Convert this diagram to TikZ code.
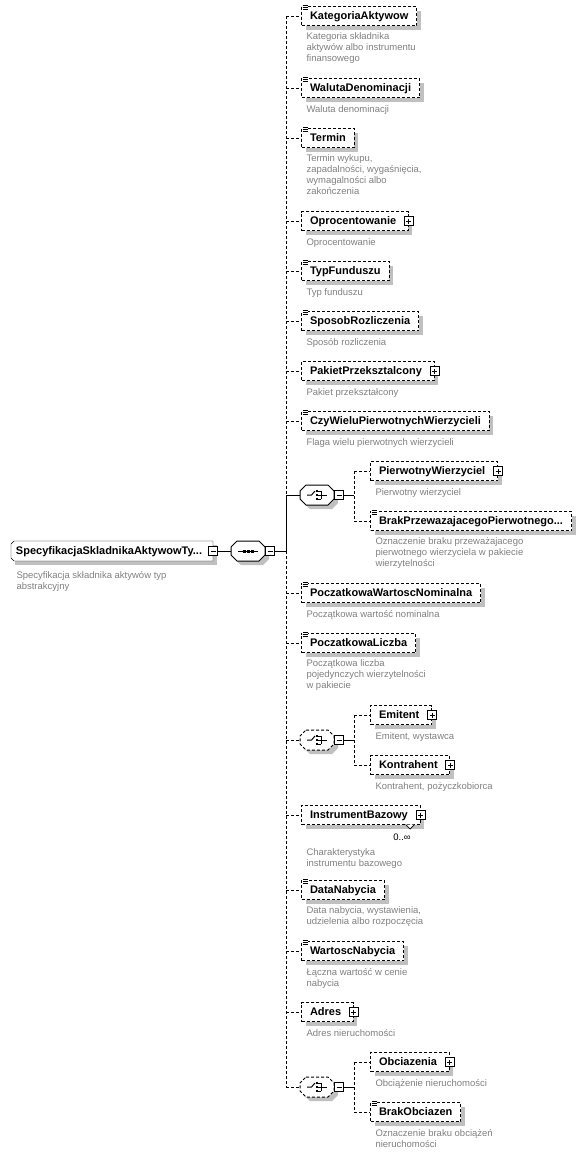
\documentclass[tikz,border=0pt]{standalone}
\usepackage{fontspec}
\setmainfont{Liberation Sans}
\usetikzlibrary{calc,shadows,backgrounds}
\definecolor{shd}{RGB}{192,192,192}
\definecolor{dgray}{RGB}{128,128,128}
\newcommand\efont{\fontsize{11}{13}\selectfont\bfseries}
\newcommand\dfont{\fontsize{9.5}{11}\selectfont}
\newcommand\octa[2][]{\path[#1] ($(#2.north west)+(6,0)$) -- ($(#2.north east)+(-6,0)$) -- ($(#2.north east)+(0,6)$) -- ($(#2.south east)+(0,-6)$) -- ($(#2.south east)+(-6,0)$) -- ($(#2.south west)+(6,0)$) -- ($(#2.south west)+(0,-6)$) -- ($(#2.north west)+(0,6)$) -- cycle;}
\newcommand\seqicon[1]{\draw[line width=1pt] ($(#1)+(-10,0)$) -- ($(#1)+(10,0)$);
  \foreach \dx in {-4,0,4} \fill ($(#1)+(\dx-1.5,-1.5)$) rectangle ($(#1)+(\dx+1.5,1.5)$);}
\newcommand\choiceicon[1]{\draw[line width=1pt] ($(#1)+(-10,0)$) -- ($(#1)+(-5.5,0)$) -- ($(#1)+(-2,-4)$);
  \foreach \dy in {-4,0,4} {\fill ($(#1)+(-1.2,\dy-1.2)$) rectangle ($(#1)+(1.2,\dy+1.2)$);
    \draw[line width=0.8pt] ($(#1)+(1,\dy)$) -- ($(#1)+(4,\dy)$);}
  \draw[line width=0.8pt] ($(#1)+(4,-4.4)$) -- ($(#1)+(4,4.4)$) ($(#1)+(4,0)$) -- ($(#1)+(9.5,0)$);}
\begin{document}
\begin{tikzpicture}[x=1pt,y=-1pt,line width=1pt,
  dsh/.style={dash pattern=on 3pt off 2pt},
  elem/.style={draw,dsh,fill=white,anchor=west,minimum height=19pt,inner xsep=8.5pt,inner ysep=0pt,
    text height=7.8pt,text depth=0pt,font=\efont,
    drop shadow={shadow xshift=4pt,shadow yshift=-4pt,opacity=1,fill=shd}},
  xp/.style={execute at end node={\hspace{3.8pt}}},
  dsc/.style={anchor=north west,inner sep=0pt,font=\dfont,text=dgray,align=left,
    execute at begin node={\rule{0pt}{7.5pt}}},
  mbox/.style={draw,solid,fill=white,line width=1pt,minimum size=9pt,inner sep=0pt,
    path picture={\draw[line width=1pt] ([xshift=2pt]path picture bounding box.west) -- ([xshift=-2pt]path picture bounding box.east);}},
  pbox/.style={draw,solid,fill=white,line width=1pt,minimum size=9pt,inner sep=0pt,
    path picture={\draw[line width=1pt] ([xshift=2pt]path picture bounding box.west) -- ([xshift=-2pt]path picture bounding box.east)
      ([yshift=-2pt]path picture bounding box.north) -- ([yshift=2pt]path picture bounding box.south);}},
  octn/.style={minimum width=34pt,minimum height=20pt,inner sep=0pt,outer sep=0pt},
  eqi/.pic={\fill[white] (0.5,-2) rectangle (7,4); \foreach \yy in {-1,1,3} \draw[line width=0.8pt] (1.5,\yy) -- (6.5,\yy);},
]
\useasboundingbox (0,0) rectangle (582,1157);

% ---------- root ----------
\node[anchor=west,inner xsep=5pt,inner ysep=0pt,minimum height=20pt,text height=7.8pt,text depth=0pt,font=\efont,outer sep=0pt] (root) at (11,551) {SpecyfikacjaSkladnikaAktywowTy...};
\node[mbox] (rootm) at (213,551) {};
\begin{scope}[on background layer]
  \fill[shd] ($(root.north west)+(4,4)$) rectangle ($(root.south -| rootm)+(4,4)$);
  \draw[fill=white] ($(root.north west)+(3,0)$) -- (root.north -| rootm) -- (root.south -| rootm) -- ($(root.south west)+(3,0)$) -- ($(root.south west)+(0,-3)$) -- ($(root.north west)+(0,3)$) -- cycle;
\end{scope}
\node[dsc] (root-d) at (16,571) {Specyfikacja składnika aktywów typ\\abstrakcyjny};

% ---------- sequence ----------
\node[octn] (seq) at (248,551) {};
\octa[fill=shd,transform canvas={shift={(4,4)}}]{seq}
\octa[draw,fill=white]{seq}
\seqicon{seq}
\node[mbox] (seqm) at (270,551) {};

% ---------- choices ----------
\node[octn] (ch1) at (317,495) {};
\octa[fill=shd,transform canvas={shift={(4,4)}}]{ch1}
\octa[draw,fill=white]{ch1}
\choiceicon{ch1}
\node[mbox] (ch1m) at (339,495) {};

\node[octn] (ch2) at (317,740) {};
\octa[fill=shd,transform canvas={shift={(4,4)}}]{ch2}
\octa[draw,dsh,fill=white]{ch2}
\choiceicon{ch2}
\node[mbox] (ch2m) at (339,740) {};

\node[octn] (ch3) at (317,1087) {};
\octa[fill=shd,transform canvas={shift={(4,4)}}]{ch3}
\octa[draw,dsh,fill=white]{ch3}
\choiceicon{ch3}
\node[mbox] (ch3m) at (339,1087) {};

% ---------- elements ----------
\node[elem] (kat) at (301,16) {KategoriaAktywow};
\pic at (kat.north west) {eqi};
\node[dsc] (kat-d) at (306,32.5) {Kategoria składnika\\aktywów albo instrumentu\\finansowego};

\node[elem] (wal) at (301,88) {WalutaDenominacji};
\pic at (wal.north west) {eqi};
\node[dsc] (wal-d) at (306,104.5) {Waluta denominacji};

\node[elem] (ter) at (301,138) {Termin};
\pic at (ter.north west) {eqi};
\node[dsc] (ter-d) at (306,154.5) {Termin wykupu,\\zapadalności, wygaśnięcia,\\wymagalności albo\\zakończenia};

\node[elem,xp] (opr) at (301,221) {Oprocentowanie};
\node[pbox] (opr-p) at (opr.east) {};
\node[dsc] (opr-d) at (306,237.5) {Oprocentowanie};

\node[elem] (typ) at (301,271) {TypFunduszu};
\pic at (typ.north west) {eqi};
\node[dsc] (typ-d) at (306,287.5) {Typ funduszu};

\node[elem] (spo) at (301,321) {SposobRozliczenia};
\pic at (spo.north west) {eqi};
\node[dsc] (spo-d) at (306,337.5) {Sposób rozliczenia};

\node[elem,xp] (pak) at (301,371) {PakietPrzeksztalcony};
\node[pbox] (pak-p) at (pak.east) {};
\node[dsc] (pak-d) at (306,387.5) {Pakiet przekształcony};

\node[elem] (czy) at (301,421) {CzyWieluPierwotnychWierzycieli};
\pic at (czy.north west) {eqi};
\node[dsc] (czy-d) at (306,437.5) {Flaga wielu pierwotnych wierzycieli};

\node[elem,xp] (pie) at (370,471) {PierwotnyWierzyciel};
\node[pbox] (pie-p) at (pie.east) {};
\node[dsc] (pie-d) at (375,487.5) {Pierwotny wierzyciel};

\node[elem] (brk) at (370,521) {BrakPrzewazajacegoPierwotnego...};
\pic at (brk.north west) {eqi};
\node[dsc] (brk-d) at (375,537.5) {Oznaczenie braku przeważajacego\\pierwotnego wierzyciela w pakiecie\\wierzytelności};

\node[elem] (pwn) at (301,593) {PoczatkowaWartoscNominalna};
\pic at (pwn.north west) {eqi};
\node[dsc] (pwn-d) at (306,609.5) {Początkowa wartość nominalna};

\node[elem] (plc) at (301,643) {PoczatkowaLiczba};
\pic at (plc.north west) {eqi};
\node[dsc] (plc-d) at (306,659.5) {Początkowa liczba\\pojedynczych wierzytelności\\w pakiecie};

\node[elem,xp] (emi) at (370,715) {Emitent};
\node[pbox] (emi-p) at (emi.east) {};
\node[dsc] (emi-d) at (375,731.5) {Emitent, wystawca};

\node[elem,xp] (kon) at (370,765) {Kontrahent};
\node[pbox] (kon-p) at (kon.east) {};
\node[dsc] (kon-d) at (375,781.5) {Kontrahent, pożyczkobiorca};

\node[elem,xp] (ins) at (301,815) {InstrumentBazowy};
\node[pbox] (ins-p) at (ins.east) {};
\draw[fill=white,solid,line width=0.8pt] ($(ins.south east)+(-15,-0.5)$) -- ($(ins.south east)+(-10.5,4)$) -- ($(ins.south east)+(-6,-0.5)$);
\node[font=\dfont,anchor=base,inner sep=0pt] (ins-m) at (402,840.5) {0..∞};
\node[dsc] (ins-d) at (306,848) {Charakterystyka\\instrumentu bazowego};

\node[elem] (dat) at (301,890) {DataNabycia};
\pic at (dat.north west) {eqi};
\node[dsc] (dat-d) at (306,906.5) {Data nabycia, wystawienia,\\udzielenia albo rozpoczęcia};

\node[elem] (war) at (301,951) {WartoscNabycia};
\pic at (war.north west) {eqi};
\node[dsc] (war-d) at (306,967.5) {Łączna wartość w cenie\\nabycia};

\node[elem,xp] (adr) at (301,1012) {Adres};
\node[pbox] (adr-p) at (adr.east) {};
\node[dsc] (adr-d) at (306,1028.5) {Adres nieruchomości};

\node[elem,xp] (obc) at (370,1062) {Obciazenia};
\node[pbox] (obc-p) at (obc.east) {};
\node[dsc] (obc-d) at (375,1078.5) {Obciążenie nieruchomości};

\node[elem] (bob) at (370,1112) {BrakObciazen};
\pic at (bob.north west) {eqi};
\node[dsc] (bob-d) at (375,1128.5) {Oznaczenie braku obciążeń\\nieruchomości};

% ---------- connectors ----------
\coordinate (vx) at (286,551);
\coordinate (c1x) at (354,495);
\coordinate (c2x) at (354,740);
\coordinate (c3x) at (354,1087);
\draw (rootm.east) -- (seq.west);
\draw (seqm.east) -- (vx);
\draw[dsh] (kat.west -| vx) -- (ch1.west -| vx);
\draw (ch1.west -| vx) -- (vx);
\draw[dsh] (vx) -- (ch3.west -| vx);
\foreach \n in {kat,wal,ter,opr,typ,spo,pak,czy,pwn,plc,ins,dat,war,adr}
  \draw[dsh] (\n.west -| vx) -- (\n.west);
\draw (ch1.west -| vx) -- (ch1.west);
\draw[dsh] (ch2.west -| vx) -- (ch2.west);
\draw[dsh] (ch3.west -| vx) -- (ch3.west);
\draw (ch1m.east) -- (c1x);
\draw (ch2m.east) -- (c2x);
\draw (ch3m.east) -- (c3x);
\draw[dsh] (pie.west -| c1x) -- (brk.west -| c1x);
\draw[dsh] (emi.west -| c2x) -- (kon.west -| c2x);
\draw[dsh] (obc.west -| c3x) -- (bob.west -| c3x);
\foreach \n/\c in {pie/c1x,brk/c1x,emi/c2x,kon/c2x,obc/c3x,bob/c3x}
  \draw[dsh] (\n.west -| \c) -- (\n.west);
\end{tikzpicture}
\end{document}
